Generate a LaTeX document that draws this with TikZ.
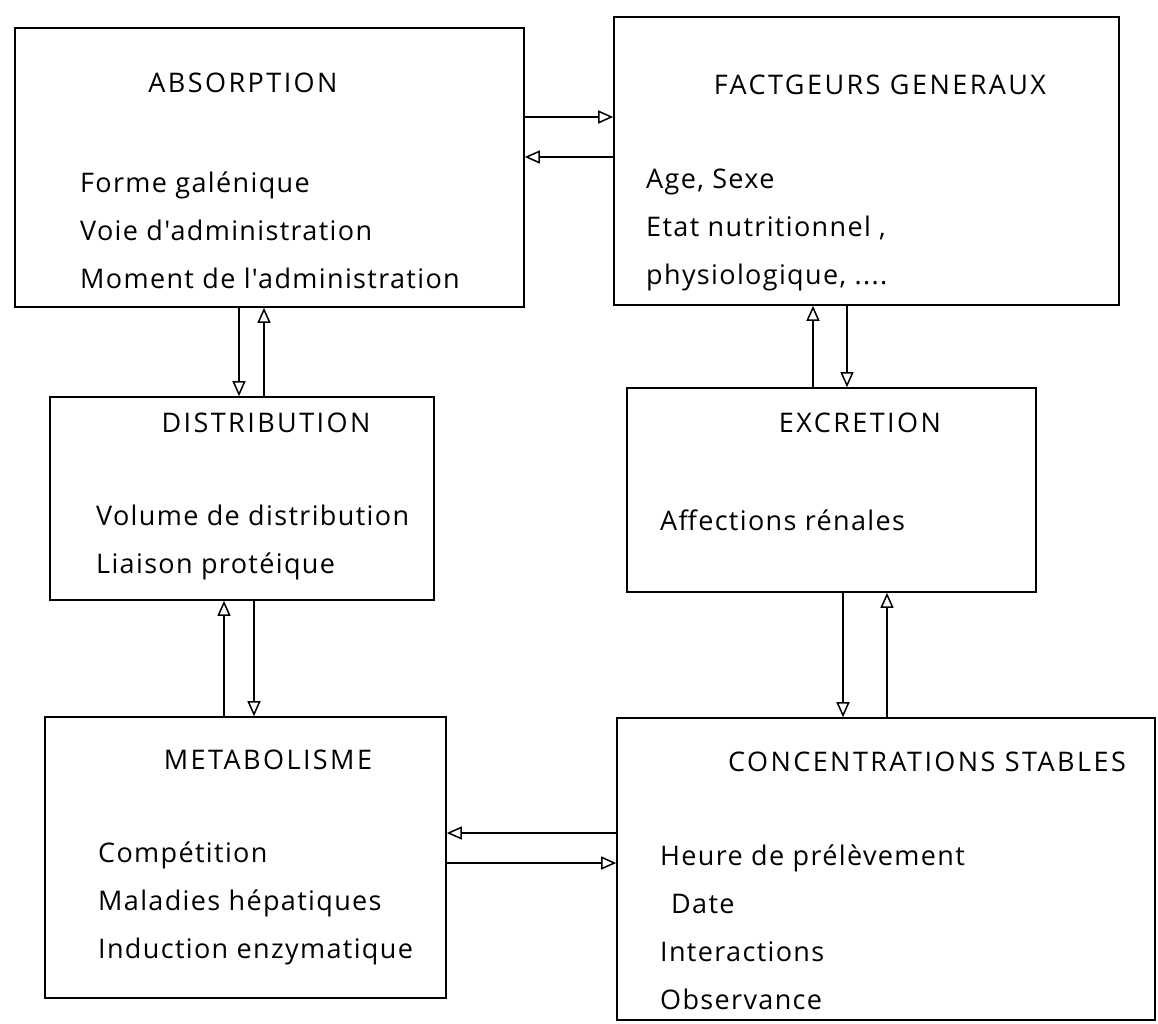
\documentclass[tikz,border=0pt]{standalone}
\usepackage{fontspec}
\setmainfont{Open Sans}
\newfontfamily\itemfont{Open Sans}[LetterSpace=5]
\newfontfamily\headfont{Open Sans}[LetterSpace=9]
\usetikzlibrary{arrows.meta}

\begin{document}
\begin{tikzpicture} [
            x=1pt, y=-1pt,
            box/.style={draw, line width=1.6pt, inner sep=0pt},
            title/.style={font=\headfont\fontsize{27}{32}\selectfont, inner sep=0pt},
            items/.style={font=\itemfont\fontsize{27}{48}\selectfont, align=left, anchor=west, inner sep=0pt},
            flow/.style={line width=1.5pt, -{Triangle[open,length=15pt,width=13pt]}}
        ]
        \useasboundingbox (0,0) rectangle (1158,1023);
        % boxes
        \node[box, minimum width=509pt, minimum height=279pt] (abs) at (269.5,167.5) {};
        \node[box, minimum width=505pt, minimum height=288pt] (fact) at (866.5,161) {};
        \node[box, minimum width=384pt, minimum height=203pt] (dist) at (242,498.5) {};
        \node[box, minimum width=409pt, minimum height=204pt] (exc) at (831.5,490) {};
        \node[box, minimum width=401pt, minimum height=281pt] (met) at (245.5,857.5) {};
        \node[box, minimum width=538pt, minimum height=302pt] (conc) at (886,869) {};
        % titles
        \node[title] (abs-t) at (243,83) {ABSORPTION};
        \node[title] (fact-t) at (880,85) {FACTGEURS GENERAUX};
        \node[title] (dist-t) at (266,423) {DISTRIBUTION};
        \node[title] (exc-t) at (860,423) {EXCRETION};
        \node[title] (met-t) at (268,760) {METABOLISME};
        \node[title] (conc-t) at (927,762) {CONCENTRATIONS STABLES};
        % contents
        \node[items] (abs-i) at (80,230) {Forme galénique\\Voie d'administration\\Moment de l'administration};
        \node[items] (fact-i) at (646,230) {Age, Sexe\\Etat nutritionnel ,\\physiologique, ....};
        \node[items] (dist-i) at (96,542.5) {Volume de distribution\\Liaison protéique};
        \node[items] (exc-i) at (660,520) {Affections rénales};
        \node[items] (met-i) at (98,903) {Compétition\\Maladies hépatiques\\Induction enzymatique};
        \node[items] (conc-i) at (660,927) {Heure de prélèvement\\\hspace{11pt}Date\\Interactions\\Observance};
        % arrows
        \draw[flow] ([yshift=50.5pt]abs.east) -- ([yshift=50.5pt]abs.east -| fact.west);
        \draw[flow] ([yshift=10.5pt]abs.east -| fact.west) -- ([yshift=10.5pt]abs.east);
        \draw[flow] ([xshift=-30.5pt]abs.south) -- ([xshift=-30.5pt]abs.south |- dist.north);
        \draw[flow] ([xshift=-5.5pt]abs.south |- dist.north) -- ([xshift=-5.5pt]abs.south);
        \draw[flow] ([xshift=-53.5pt]fact.south |- exc.north) -- ([xshift=-53.5pt]fact.south);
        \draw[flow] ([xshift=-19.5pt]fact.south) -- ([xshift=-19.5pt]fact.south |- exc.north);
        \draw[flow] ([xshift=-18pt]dist.south |- met.north) -- ([xshift=-18pt]dist.south);
        \draw[flow] ([xshift=12pt]dist.south) -- ([xshift=12pt]dist.south |- met.north);
        \draw[flow] ([xshift=11.5pt]exc.south) -- ([xshift=11.5pt]exc.south |- conc.north);
        \draw[flow] ([xshift=55.5pt]exc.south |- conc.north) -- ([xshift=55.5pt]exc.south);
        \draw[flow] ([yshift=24.5pt]met.east -| conc.west) -- ([yshift=24.5pt]met.east);
        \draw[flow] ([yshift=-5.5pt]met.east) -- ([yshift=-5.5pt]met.east -| conc.west);
    \end{tikzpicture}
\end{document}
